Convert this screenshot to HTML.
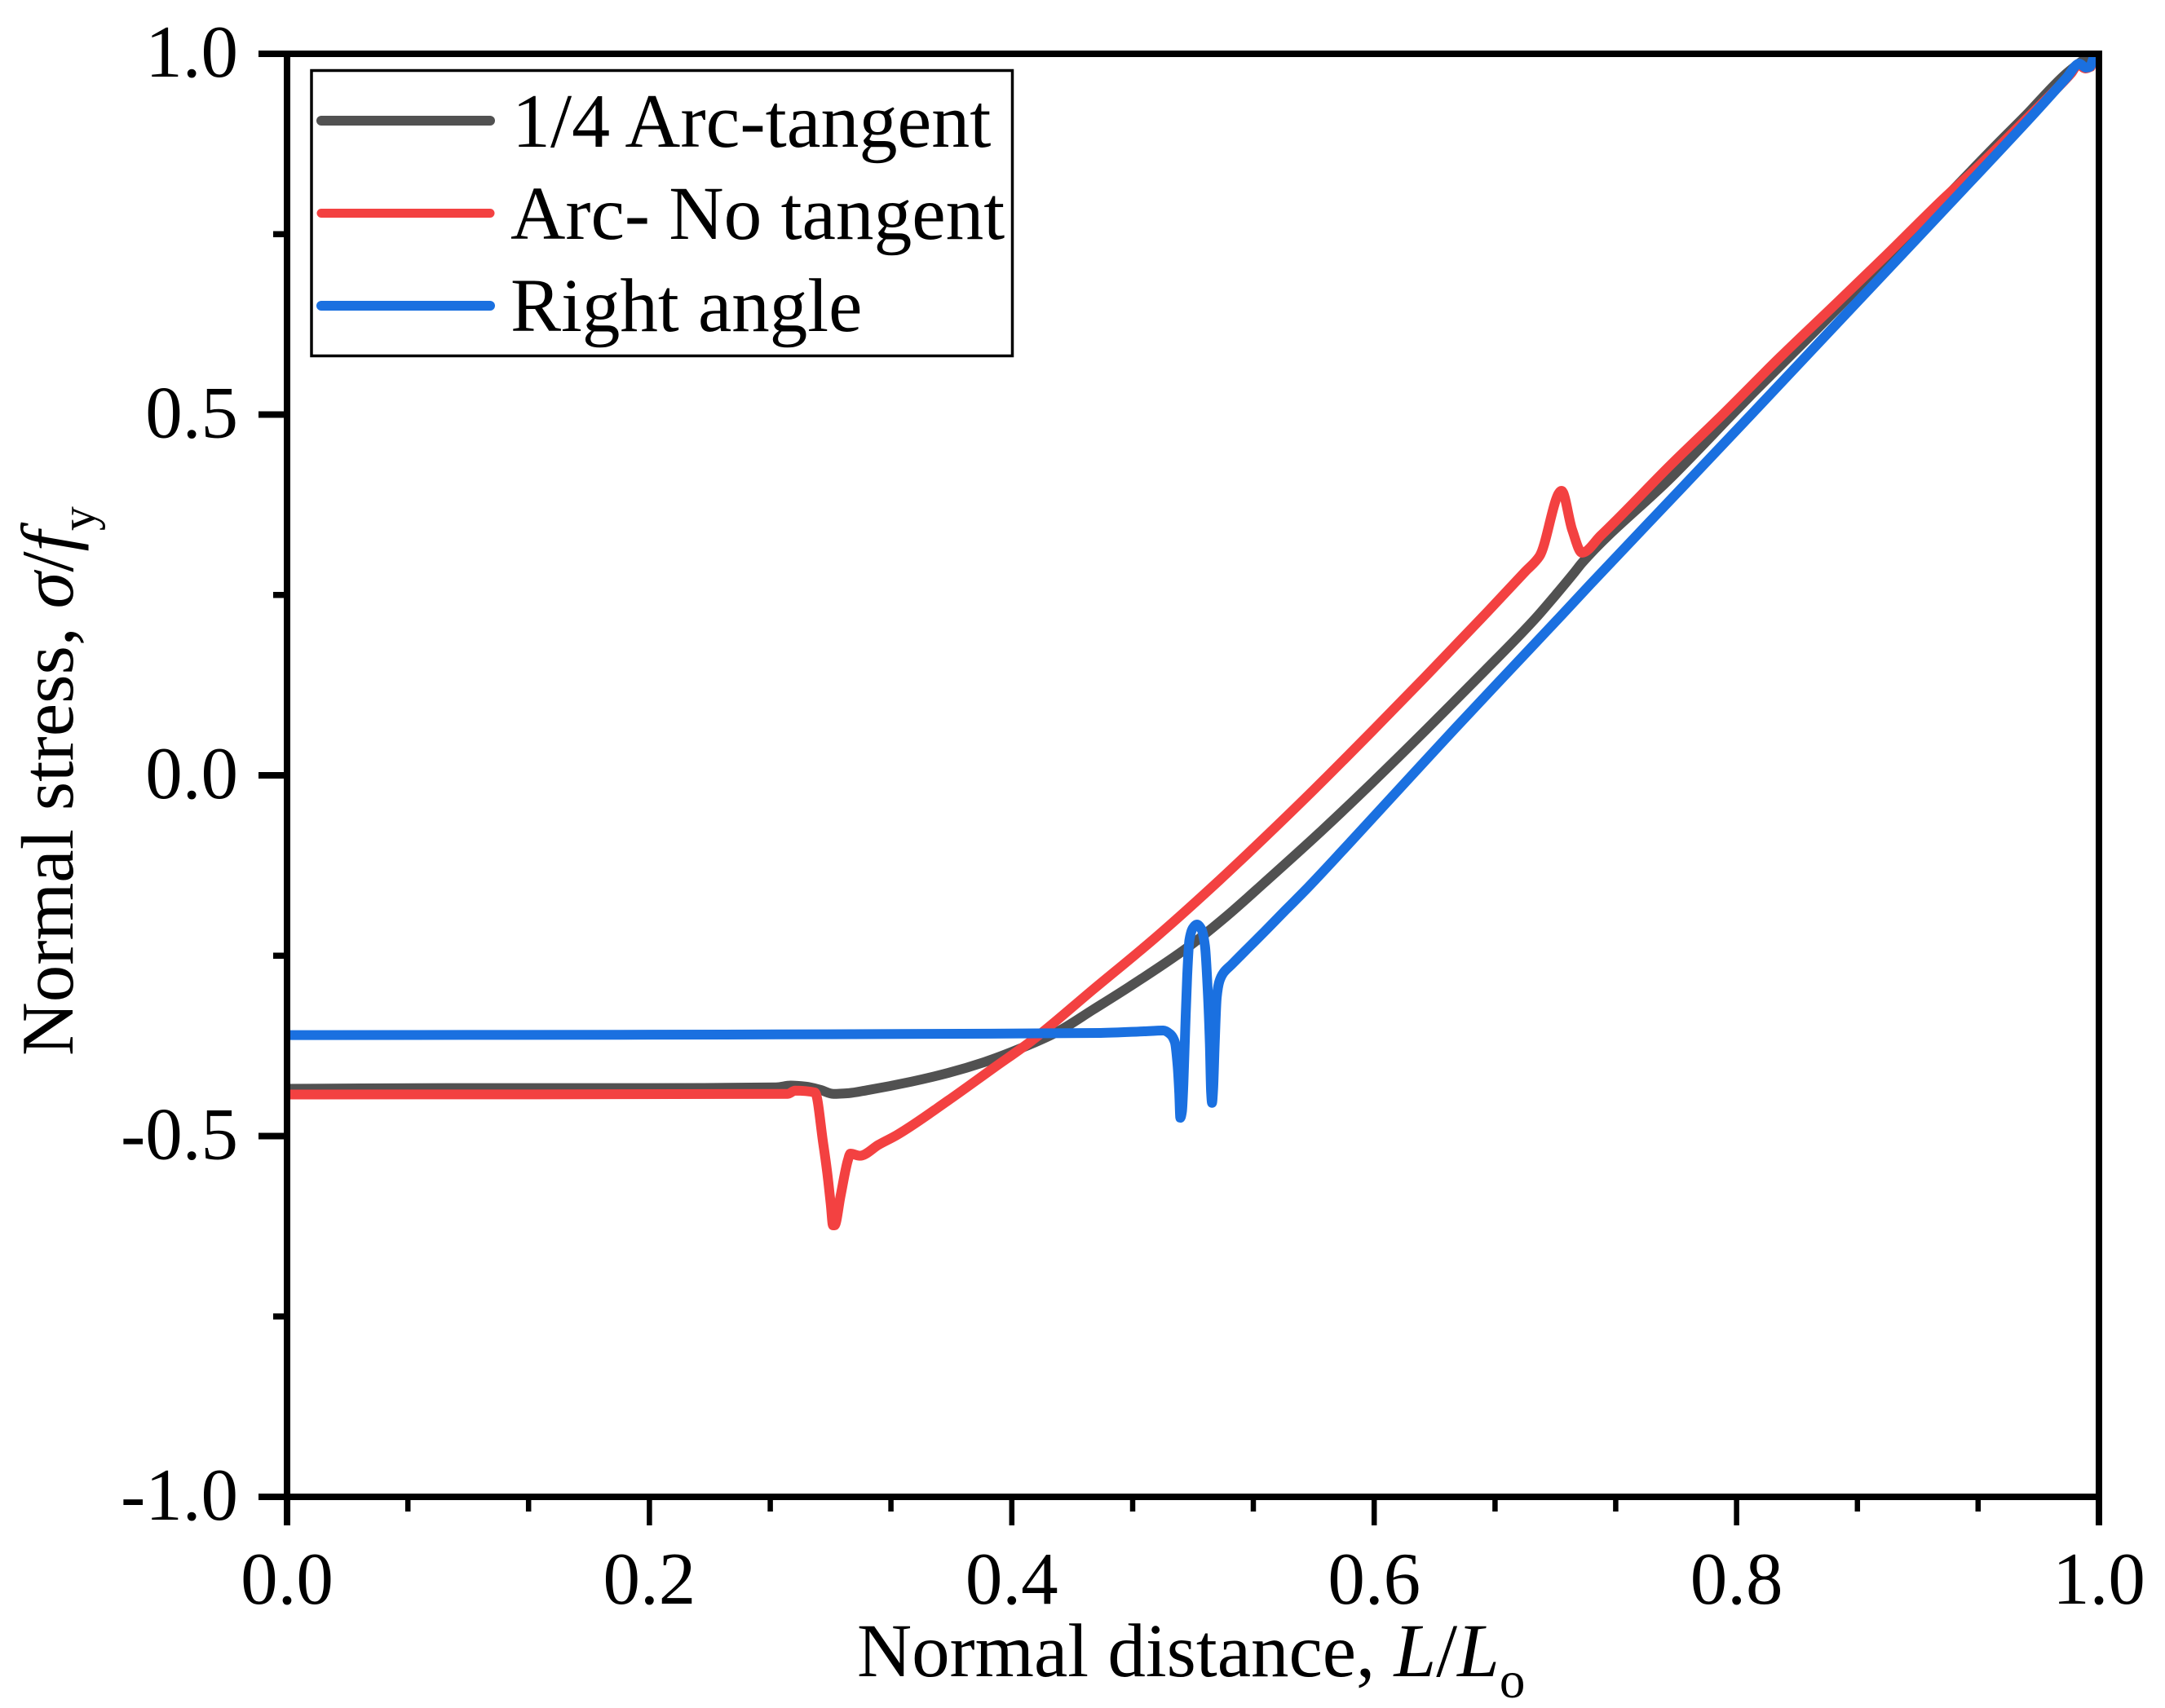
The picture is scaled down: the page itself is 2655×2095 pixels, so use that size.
<!DOCTYPE html>
<html lang="en">
<head>
<meta charset="utf-8">
<title>Normal stress vs normal distance</title>
<style>
html,body{margin:0;padding:0;background:#fff;}
svg{display:block;}
text{font-family:"Liberation Serif","Times New Roman",serif;fill:#000;}
</style>
</head>
<body>
<svg id="chart" xmlns="http://www.w3.org/2000/svg" width="2655" height="2095" viewBox="0 0 2655 2095">
  <rect x="0" y="0" width="2655" height="2095" fill="#ffffff"/>
  <defs><clipPath id="plot-clip"><rect x="352" y="66" width="2222" height="1770"/></clipPath></defs>
  <g id="series" clip-path="url(#plot-clip)" fill="none" stroke-width="12" stroke-linejoin="round" stroke-linecap="round"></g>
  <g id="axes"></g>

  <g>
    <rect x="382" y="86.5" width="859.5" height="350" fill="#ffffff" stroke="#000" stroke-width="3.5"/>
    <line x1="394" x2="601" y1="148" y2="148" stroke="#515151" stroke-width="12" stroke-linecap="round"/>
    <text x="628" y="180" font-size="94">1/4 Arc-tangent</text>
    <line x1="394" x2="601" y1="261.5" y2="261.5" stroke="#F34141" stroke-width="11" stroke-linecap="round"/>
    <text x="626" y="293" font-size="93.3">Arc- No tangent</text>
    <line x1="394" x2="601" y1="375" y2="375" stroke="#1A70E0" stroke-width="12" stroke-linecap="round"/>
    <text x="626" y="406" font-size="93">Right angle</text>
  </g>

  <text x="1051" y="2056" font-size="93">Normal distance, <tspan font-style="italic">L</tspan>/<tspan font-style="italic">L</tspan><tspan font-size="63" dy="26">o</tspan></text>
  <text transform="translate(89,1295) rotate(-90)" x="0" y="0" font-size="91">Normal stress, <tspan font-style="italic">σ</tspan>/<tspan font-style="italic">f</tspan><tspan font-size="60" dy="27">y</tspan></text>
</svg>

<script>
var xMajorTicks = [0, 0.2, 0.4, 0.6, 0.8, 1.0];
var xMinorTicks = [0.0667, 0.1333, 0.2667, 0.3333, 0.4667, 0.5333, 0.6667, 0.7333, 0.8667, 0.9333];
var xTickLabels = ["0.0", "0.2", "0.4", "0.6", "0.8", "1.0"];
var yMajorTicks = [-1.0, -0.5, 0, 0.5, 1.0];
var yMinorTicks = [-0.75, -0.25, 0.25, 0.75];
var yTickLabels = ["-1.0", "-0.5", "0.0", "0.5", "1.0"];

var grayX = [0, 0.0891, 0.2, 0.27, 0.278, 0.2864, 0.2944, 0.3016, 0.31, 0.32, 0.3447, 0.3648, 0.3848, 0.4048, 0.4248, 0.445, 0.4652, 0.4973, 0.5184, 0.5392, 0.5707, 0.5992, 0.6292, 0.6593, 0.689, 0.7, 0.7109, 0.7147, 0.7642, 0.8069, 0.8465, 0.8843, 0.9442, 0.959, 0.9815, 0.9906, 0.9964];
var grayY = [-0.4345, -0.4335, -0.4335, -0.4325, -0.43, -0.4315, -0.436, -0.4415, -0.4405, -0.4365, -0.4245, -0.4125, -0.3975, -0.3785, -0.356, -0.3245, -0.2925, -0.238, -0.1955, -0.1492, -0.0775, -0.0095, 0.0645, 0.1405, 0.2175, 0.2495, 0.2825, 0.2945, 0.4136, 0.5243, 0.6237, 0.7198, 0.8757, 0.913, 0.9715, 0.9898, 1.0];

var redX = [0, 0.2763, 0.2804, 0.2914, 0.2959, 0.2981, 0.3001, 0.3013, 0.3022, 0.3055, 0.3095, 0.3109, 0.3161, 0.3266, 0.3366, 0.3648, 0.39, 0.4109, 0.4451, 0.4793, 0.5144, 0.5392, 0.5669, 0.5992, 0.6278, 0.6442, 0.6629, 0.6834, 0.6913, 0.7034, 0.7093, 0.7147, 0.725, 0.7642, 0.7912, 0.8241, 0.8556, 0.8826, 0.9141, 0.9316, 0.9622, 0.975, 0.9847, 0.9885, 0.9925, 0.9955];
var redY = [-0.4424, -0.4415, -0.437, -0.4395, -0.51, -0.55, -0.595, -0.6237, -0.6237, -0.5827, -0.5338, -0.5243, -0.5273, -0.5119, -0.4985, -0.4508, -0.4055, -0.368, -0.2964, -0.2249, -0.1458, -0.087, -0.0195, 0.062, 0.1355, 0.1785, 0.2275, 0.2825, 0.304, 0.3944, 0.3401, 0.3085, 0.3322, 0.4316, 0.4972, 0.5797, 0.6554, 0.7209, 0.7989, 0.8395, 0.9153, 0.9475, 0.973, 0.985, 0.9797, 0.982];

var blueX = [0, 0.2, 0.34, 0.4491, 0.4731, 0.4836, 0.4874, 0.49, 0.4915, 0.4924, 0.493, 0.4939, 0.4947, 0.4957, 0.4968, 0.498, 0.4999, 0.5022, 0.5047, 0.5066, 0.5081, 0.5093, 0.51, 0.5105, 0.5111, 0.512, 0.5131, 0.5146, 0.5168, 0.5213, 0.5303, 0.5392, 0.5514, 0.5617, 0.5841, 0.6171, 0.6441, 0.6742, 0.7042, 0.7192, 0.7702, 0.8092, 0.8392, 0.8692, 0.8992, 0.9292, 0.9388, 0.9642, 0.982, 0.9892, 0.9928, 0.995, 0.9964, 0.9968];
var blueY = [-0.36, -0.3595, -0.3585, -0.357, -0.3548, -0.3537, -0.3586, -0.3698, -0.4019, -0.4395, -0.4746, -0.4659, -0.4282, -0.3529, -0.2776, -0.2287, -0.2119, -0.2068, -0.2136, -0.2362, -0.2963, -0.3718, -0.4395, -0.4539, -0.4358, -0.3718, -0.3077, -0.2853, -0.2738, -0.2624, -0.2396, -0.2173, -0.186, -0.16, -0.1, -0.01, 0.0635, 0.144, 0.224, 0.2645, 0.3995, 0.503, 0.583, 0.663, 0.743, 0.823, 0.8486, 0.917, 0.9665, 0.9864, 0.9808, 0.982, 0.99, 0.9932];

var NS = "http://www.w3.org/2000/svg";
function xPos(v) { return 352 + 2222 * v; }
function yPos(v) { return 951 - 885 * v; }

/* Monotone cubic interpolation through the data points: smooth, with no overshoot. */
function seriesPath(xs, ys) {
  var n = xs.length, px = [], py = [], s = [], m = [], i;
  for (i = 0; i < n; i++) { px.push(xPos(xs[i])); py.push(yPos(ys[i])); }
  for (i = 0; i < n - 1; i++) { s.push((py[i + 1] - py[i]) / (px[i + 1] - px[i])); }
  m.push(s[0]);
  for (i = 1; i < n - 1; i++) {
    if (s[i - 1] * s[i] <= 0) { m.push(0); }
    else {
      var h0 = px[i] - px[i - 1], h1 = px[i + 1] - px[i], w0 = 2 * h1 + h0, w1 = h1 + 2 * h0;
      m.push((w0 + w1) / (w0 / s[i - 1] + w1 / s[i]));
    }
  }
  m.push(s[n - 2]);
  var d = "M" + px[0].toFixed(2) + " " + py[0].toFixed(2);
  for (i = 0; i < n - 1; i++) {
    var h = (px[i + 1] - px[i]) / 3;
    d += "C" + (px[i] + h).toFixed(2) + " " + (py[i] + m[i] * h).toFixed(2) + " " +
      (px[i + 1] - h).toFixed(2) + " " + (py[i + 1] - m[i + 1] * h).toFixed(2) + " " +
      px[i + 1].toFixed(2) + " " + py[i + 1].toFixed(2);
  }
  return d;
}

var seriesGroup = document.getElementById("series");
var axesGroup = document.getElementById("axes");

var grayLine = document.createElementNS(NS, "path");


grayLine.setAttribute("d", seriesPath(grayX, grayY));
grayLine.setAttribute("stroke", "#515151");
seriesGroup.appendChild(grayLine);

var redLine = document.createElementNS(NS, "path");


redLine.setAttribute("d", seriesPath(redX, redY));
redLine.setAttribute("stroke", "#F34141");
seriesGroup.appendChild(redLine);

var blueLine = document.createElementNS(NS, "path");


blueLine.setAttribute("d", seriesPath(blueX, blueY));
blueLine.setAttribute("stroke", "#1A70E0");
seriesGroup.appendChild(blueLine);

function makeLine(x1, y1, x2, y2, w) {
  var el = document.createElementNS(NS, "line");
  el.setAttribute("x1", x1);
  el.setAttribute("y1", y1);
  el.setAttribute("x2", x2);
  el.setAttribute("y2", y2);
  el.setAttribute("stroke", "#000");
  el.setAttribute("stroke-width", w);
  axesGroup.appendChild(el);
  return el;
}

xMajorTicks.forEach(function (v, i) {
  var t = makeLine(xPos(v), 1836, xPos(v), 1871, (i === 0 || i === xMajorTicks.length - 1) ? 8 : 6.5);
  
  
  var label = document.createElementNS(NS, "text");
  
  
  label.setAttribute("x", xPos(v));
  label.setAttribute("y", 1967);
  label.setAttribute("font-size", 91);
  label.setAttribute("text-anchor", "middle");
  label.textContent = xTickLabels[i];
  axesGroup.appendChild(label);
});
xMinorTicks.forEach(function (v) {
  var t = makeLine(xPos(v), 1836, xPos(v), 1854, 6.5);
  
  
});
yMajorTicks.forEach(function (v, i) {
  var t = makeLine(317, yPos(v), 352, yPos(v), 8);
  
  
  var label = document.createElementNS(NS, "text");
  
  
  label.setAttribute("x", 292);
  label.setAttribute("y", yPos(v) + 28);
  label.setAttribute("font-size", 91);
  label.setAttribute("text-anchor", "end");
  label.textContent = yTickLabels[i];
  axesGroup.appendChild(label);
});
yMinorTicks.forEach(function (v) {
  var t = makeLine(335, yPos(v), 352, yPos(v), 7.5);
  
  
});

var frame = document.createElementNS(NS, "rect");


frame.setAttribute("x", 352);
frame.setAttribute("y", 66);
frame.setAttribute("width", 2222);
frame.setAttribute("height", 1770);
frame.setAttribute("fill", "none");
frame.setAttribute("stroke", "#000");
frame.setAttribute("stroke-width", 8);
axesGroup.appendChild(frame);
</script>
</body>
</html>
